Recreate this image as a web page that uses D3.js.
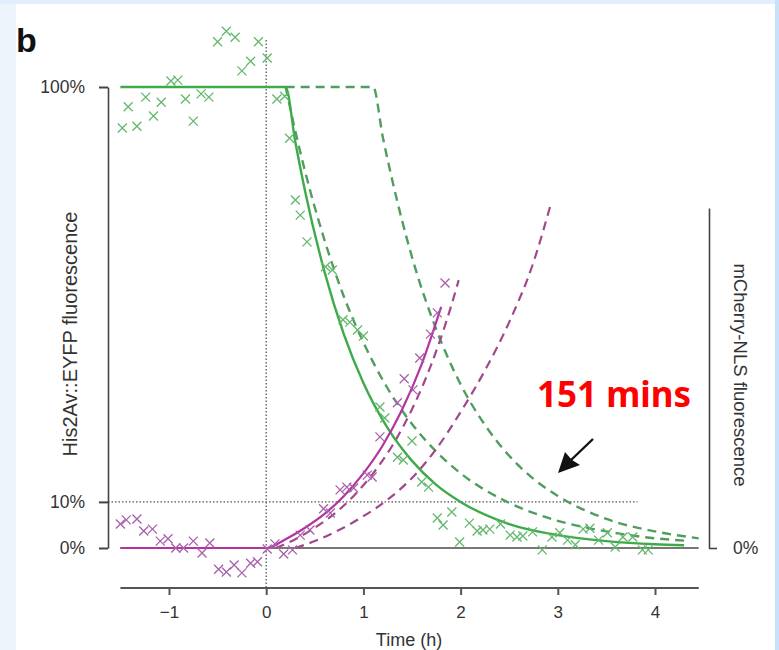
<!DOCTYPE html>
<html>
<head>
<meta charset="utf-8">
<script src="https://cdn.jsdelivr.net/npm/d3@7"></script>
<style>
  html, body { margin: 0; padding: 0; background: #fff; }
  svg { display: block; }
  text { font-family: "Liberation Sans", Arial, sans-serif; }
</style>
</head>
<body>
<svg id="chart" width="779" height="650"></svg>
<script>
// time (h) ticks and y ticks
const timeTicks = [-1, 0, 1, 2, 3, 4];
const leftTicks = [0, 10, 100];

// His2Av::EYFP measurements [time h, %]
const greenPoints = [
  [-1.48, 91.1], [-1.42, 95.7], [-1.33, 91.5], [-1.24, 97.8], [-1.16, 93.7],
  [-1.08, 96.7], [-0.98, 101.3], [-0.91, 101.5], [-0.83, 97.4], [-0.75, 92.6],
  [-0.67, 98.5], [-0.59, 97.8], [-0.50, 109.8], [-0.41, 112.1], [-0.32, 110.8],
  [-0.25, 103.5], [-0.16, 105.6], [-0.08, 109.8], [0.01, 106.3], [0.11, 97.4],
  [0.19, 98.0], [0.24, 88.9], [0.30, 75.5], [0.35, 72.2], [0.42, 66.4],
  [0.61, 61.0], [0.68, 60.3], [0.79, 49.5], [0.86, 49.0], [0.94, 47.3],
  [1.00, 46.0], [1.17, 30.6], [1.22, 28.2], [1.35, 19.7], [1.41, 19.1],
  [1.50, 23.2], [1.60, 14.3], [1.67, 13.2], [1.76, 6.5], [1.82, 5.0],
  [1.91, 7.8], [1.99, 1.3], [2.09, 5.4], [2.17, 3.7], [2.23, 3.9],
  [2.30, 4.1], [2.41, 5.2], [2.51, 2.8], [2.58, 2.4], [2.64, 2.6],
  [2.74, 3.5], [2.84, -0.4], [2.94, 2.4], [3.02, 3.3], [3.10, 1.7],
  [3.18, 0.7], [3.26, 4.1], [3.33, 4.3], [3.42, 1.7], [3.51, 3.3],
  [3.59, 0.2], [3.67, 2.4], [3.77, 2.4], [3.87, -0.4], [3.93, -0.4]
];

// mCherry-NLS measurements [time h, %]
const magentaPoints = [
  [-1.50, 5.2], [-1.44, 6.1], [-1.33, 6.3], [-1.26, 3.7], [-1.17, 4.1],
  [-1.09, 1.5], [-1.01, 2.0], [-0.93, 0.0], [-0.85, 0.0], [-0.75, 1.5],
  [-0.66, -1.1], [-0.58, 1.1], [-0.49, -4.6], [-0.41, -5.2], [-0.33, -3.7],
  [-0.25, -5.4], [-0.16, -3.3], [-0.09, -3.0], [0.01, -0.2], [0.09, 0.9],
  [0.18, -1.3], [0.27, -0.4], [0.35, 2.8], [0.45, 3.9], [0.59, 8.5],
  [0.66, 7.6], [0.76, 12.6], [0.83, 13.2], [0.90, 13.0], [1.04, 15.8],
  [1.09, 15.4], [1.17, 24.1], [1.35, 31.5], [1.42, 36.7], [1.51, 34.3],
  [1.58, 41.2], [1.69, 46.4], [1.76, 51.0], [1.84, 57.5]
];

// fitted curves
const greenFit = [
  [-1.5, 100], [0.2, 100], [0.3, 88.0], [0.4, 77.4], [0.6, 59.9], [0.8, 46.3],
  [1.0, 35.8], [1.25, 26.0], [1.5, 18.9], [1.75, 13.7], [2.0, 10.0],
  [2.5, 5.2], [3.0, 2.8], [3.5, 1.5], [4.0, 0.8], [4.3, 0.6]
];
const greenModel1 = [
  [0.2, 100], [0.3, 90.4], [0.4, 81.7], [0.6, 66.8], [0.8, 54.5], [1.0, 44.6],
  [1.25, 34.6], [1.5, 26.9], [1.75, 20.9], [2.0, 16.2], [2.5, 9.8],
  [3.0, 5.9], [3.5, 3.6], [4.0, 2.1], [4.3, 1.6]
];
const greenModel2 = [
  [0.2, 100], [1.1, 100], [1.2, 89.1], [1.3, 79.5], [1.5, 63.1], [1.75, 47.4],
  [2.0, 35.5], [2.25, 26.7], [2.5, 20.0], [2.75, 15.0], [3.0, 11.3],
  [3.5, 6.3], [4.0, 3.6], [4.45, 2.1]
];
const magentaFit = [
  [-1.5, 0], [0, 0], [0.2, 1.9], [0.4, 4.4], [0.6, 7.4], [0.8, 11.3],
  [1.0, 16.2], [1.2, 22.3], [1.4, 30.1], [1.6, 39.9], [1.8, 52.3]
];
const magentaModel1 = [
  [0.1, 0], [0.3, 1.9], [0.5, 4.4], [0.7, 7.4], [0.9, 11.3], [1.1, 16.2],
  [1.3, 22.3], [1.5, 30.1], [1.7, 39.9], [1.9, 52.3], [1.98, 58.1]
];
const magentaModel2 = [
  [0.3, 0], [0.5, 1.5], [0.75, 3.9], [1.0, 6.9], [1.25, 10.5], [1.5, 15.2],
  [1.75, 21.5], [2.0, 29.5], [2.25, 38.5], [2.5, 49.0], [2.75, 62.0], [2.92, 74.0]
];

const svg = d3.select("#chart");

// light blue frame of the screenshot
svg.append("rect").attr("x", 0).attr("y", 0).attr("width", 779).attr("height", 650).attr("fill", "#fff");
svg.append("rect").attr("x", 0).attr("y", 0).attr("width", 16).attr("height", 650).attr("fill", "#eef4fb");
svg.append("rect").attr("x", 0).attr("y", 0).attr("width", 779).attr("height", 4).attr("fill", "#e2eefb");
svg.append("rect").attr("x", 775).attr("y", 0).attr("width", 4).attr("height", 650).attr("fill", "#c6e1f8");

let x = d3.scaleLinear().domain([-1, 4]).range([169, 655]);
let y = d3.scaleLinear().domain([0, 100]).range([548, 87]);
let yRight = d3.scaleLinear().domain([0, 73.7]).range([548, 208]);

// reference lines
svg.append("line")
  .attr("x1", x(-1.5)).attr("x2", x(4.45))
  .attr("y1", y(0)).attr("y2", y(0))
  .attr("stroke", "#777").attr("stroke-width", 2);
svg.append("line")
  .attr("x1", 108).attr("x2", x(3.82))
  .attr("y1", y(10)).attr("y2", y(10))
  .attr("stroke", "#555").attr("stroke-width", 1.3)
  .attr("stroke-dasharray", "1.5,2");
svg.append("line")
  .attr("x1", x(0)).attr("x2", x(0))
  .attr("y1", 40).attr("y2", 588)
  .attr("stroke", "#555").attr("stroke-width", 1.3)
  .attr("stroke-dasharray", "1.5,2");

// x axis
let xAxis = svg.append("g")
  .attr("transform", "translate(0,588)")
  .call(d3.axisBottom(x).tickValues(timeTicks).tickSize(7).tickSizeOuter(0).tickPadding(11)
    .tickFormat(d => d < 0 ? "\u2212" + Math.abs(d) : d));
xAxis.select(".domain").remove();
xAxis.selectAll(".tick line").attr("stroke", "#555").attr("stroke-width", 2);
xAxis.selectAll("text").attr("font-size", 17).attr("fill", "#333")
  .style("font-family", "Liberation Sans, Arial, sans-serif");
svg.append("line")
  .attr("x1", x(-1.5)).attr("x2", x(4.45))
  .attr("y1", 588).attr("y2", 588)
  .attr("stroke", "#555").attr("stroke-width", 2);

// left axis
let yAxis = svg.append("g")
  .attr("transform", "translate(108,0)")
  .call(d3.axisLeft(y).tickValues(leftTicks).tickSize(9).tickSizeOuter(0).tickPadding(14)
    .tickFormat(d => d + "%"));
yAxis.select(".domain").attr("stroke", "#444").attr("stroke-width", 1.6);
yAxis.selectAll(".tick line").attr("stroke", "#444").attr("stroke-width", 2);
yAxis.selectAll("text").attr("font-size", 17.5).attr("fill", "#333")
  .style("font-family", "Liberation Sans, Arial, sans-serif");

// right axis
let rAxis = svg.append("g")
  .attr("transform", "translate(709,0)")
  .call(d3.axisRight(yRight).tickValues([0]).tickSize(8).tickSizeOuter(0).tickPadding(16)
    .tickFormat(d => d + "%"));
rAxis.select(".domain").attr("stroke", "#444").attr("stroke-width", 1.6);
rAxis.selectAll(".tick line").attr("stroke", "#444").attr("stroke-width", 1.6);
rAxis.selectAll("text").attr("font-size", 17.5).attr("fill", "#333")
  .style("font-family", "Liberation Sans, Arial, sans-serif");

// curves
let line = d3.line()
  .x(d => x(d[0]))
  .y(d => y(d[1]))
  .curve(d3.curveMonotoneX);

let curves = [
  { data: greenModel2, color: "#4f9e5e", dash: "9,6", width: 2.4 },
  { data: greenModel1, color: "#4f9e5e", dash: "9,6", width: 2.4 },
  { data: magentaModel2, color: "#a2478a", dash: "9,6", width: 2.2 },
  { data: magentaModel1, color: "#a2478a", dash: "9,6", width: 2.2 },
  { data: greenFit, color: "#3eab4b", dash: null, width: 2.4 },
  { data: magentaFit, color: "#b4349f", dash: null, width: 2.2 }
];
svg.append("g").selectAll("path")
  .data(curves)
  .join("path")
  .attr("d", d => line(d.data))
  .attr("fill", "none")
  .attr("stroke", d => d.color)
  .attr("stroke-width", d => d.width)
  .attr("stroke-dasharray", d => d.dash);

// cross markers
function crosses(data, color) {
  let s = 4.5;
  svg.append("g").selectAll("path")
    .data(data)
    .join("path")
    .attr("d", d => {
      let px = x(d[0]), py = y(d[1]);
      return "M" + (px - s) + "," + (py - s) + "L" + (px + s) + "," + (py + s) +
        "M" + (px - s) + "," + (py + s) + "L" + (px + s) + "," + (py - s);
    })
    .attr("stroke", color)
    .attr("stroke-width", 1.3)
    .attr("fill", "none");
}
crosses(greenPoints, "#62b86c");
crosses(magentaPoints, "#a860ac");

// titles
svg.append("text")
  .attr("transform", "translate(77,334) rotate(-90)")
  .attr("text-anchor", "middle")
  .attr("font-size", 20).attr("fill", "#333")
  .text("His2Av::EYFP fluorescence");
svg.append("text")
  .attr("transform", "translate(734,375) rotate(90)")
  .attr("text-anchor", "middle")
  .attr("font-size", 18.5).attr("fill", "#333")
  .text("mCherry-NLS fluorescence");
svg.append("text")
  .attr("x", 409).attr("y", 646)
  .attr("text-anchor", "middle")
  .attr("font-size", 18).attr("fill", "#333")
  .text("Time (h)");
svg.append("text")
  .attr("x", 16).attr("y", 52)
  .attr("font-size", 34).attr("font-weight", "bold").attr("fill", "#111")
  .text("b");

// annotation
svg.append("text")
  .attr("x", 537).attr("y", 407)
  .attr("font-size", 35).attr("font-weight", "bold").attr("fill", "#ff0000")
  .style("font-family", "Noto Sans, Open Sans, sans-serif")
  .text("151 mins");
svg.append("line")
  .attr("x1", 593).attr("y1", 439).attr("x2", 570).attr("y2", 461)
  .attr("stroke", "#111").attr("stroke-width", 2.4);
svg.append("path")
  .attr("d", "M558,473 L565,452 L572,460 L580,465 Z")
  .attr("fill", "#111");
</script>
</body>
</html>
